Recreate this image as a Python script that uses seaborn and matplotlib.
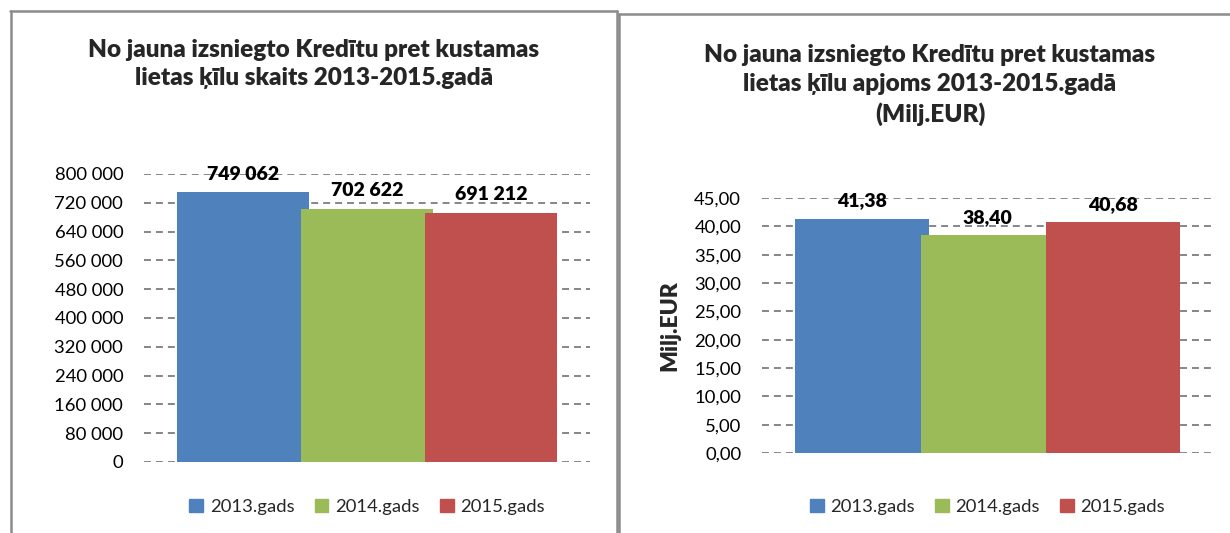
import matplotlib
matplotlib.use("Agg")
import matplotlib.pyplot as plt
import matplotlib.patches as mpatches
from matplotlib.lines import Line2D
from matplotlib.ticker import FuncFormatter
import seaborn as sns

# dati
gadi = ["2013.gads", "2014.gads", "2015.gads"]
skaits = [749062, 702622, 691212]
apjoms = [41.38, 38.40, 40.68]
krasas = ["#4F81BD", "#9BBB59", "#C0504D"]

virsraksts1 = "No jauna izsniegto Kredītu pret kustamas\nlietas ķīlu skaits 2013-2015.gadā"
virsraksts2 = "No jauna izsniegto Kredītu pret kustamas\nlietas ķīlu apjoms 2013-2015.gadā\n(Milj.EUR)"

sns.set_theme(style="white")
plt.rcParams["font.family"] = ["Lato", "DejaVu Sans"]
plt.rcParams["lines.scale_dashes"] = False

W, H = 1230, 533
fig = plt.figure(figsize=(W / 100, H / 100), dpi=100)


def px_axes(x0, x1, y_top, y_bot):
    return fig.add_axes([x0 / W, (H - y_bot) / H, (x1 - x0) / W, (y_bot - y_top) / H])


def fmt_space(v, _=None):
    return f"{int(round(v)):,}".replace(",", " ")


def fmt_comma(v, _=None):
    return f"{v:.2f}".replace(".", ",")


def zimet(ax, vertibas, ymax, step, fmt, leg_y):
    sns.barplot(x=gadi, y=vertibas, hue=gadi, palette=krasas, width=1.065,
                dodge=False, legend=False, saturation=1, linewidth=0, ax=ax)
    ax.set_xlim(-0.798, 2.798)
    ax.set_ylim(0, ymax)
    ax.set_yticks([i * step for i in range(int(round(ymax / step)) + 1)])
    ax.yaxis.set_major_formatter(FuncFormatter(fmt))
    ax.set_xticks([])
    ax.set_xlabel("")
    ax.set_ylabel("")
    for s in ax.spines.values():
        s.set_visible(False)
    ax.yaxis.grid(True, color="#868686", linewidth=1.4, linestyle=(0, (5, 3.6)))
    ax.set_axisbelow(True)
    ax.tick_params(axis="y", length=0, pad=15, labelsize=13.3, labelcolor="#000000")
    for cont, v in zip(ax.containers, vertibas):
        ax.bar_label(cont, labels=[fmt(v)], padding=7, fontsize=14,
                     fontweight="heavy", color="#000000")
    handles = [mpatches.Patch(color=c, label=g) for c, g in zip(krasas, gadi)]
    ax.legend(handles=handles, loc="center", ncol=3, frameon=False, fontsize=13.3,
              bbox_to_anchor=(0.5, leg_y),
              handlelength=0.75, handleheight=0.75, handletextpad=0.35,
              columnspacing=1.1)


ax1 = px_axes(144, 590, 174, 462)
zimet(ax1, skaits, 800000, 80000, fmt_space, (26 - 71) / 288)
fig.text(314 / W, 1 - 64 / H, virsraksts1, ha="center", va="center",
         fontsize=17.5, fontweight="heavy", linespacing=1.37)

ax2 = px_axes(762, 1213, 198, 453)
zimet(ax2, apjoms, 45, 5, fmt_comma, (26 - 80) / 255)
ax2.set_ylabel("Milj.EUR", fontsize=16.5, fontweight="heavy")
ax2.yaxis.set_label_coords(-0.182, 0.5)
fig.text(930 / W, 1 - 85 / H, virsraksts2, ha="center", va="center",
         fontsize=17.5, fontweight="heavy", linespacing=1.37)

# rāmji
ramis = dict(color="#8c8c8c", linewidth=1.8, transform=fig.transFigure)
fig.add_artist(Line2D([11 / W, 11 / W], [0, 1 - 11 / H], **ramis))
fig.add_artist(Line2D([10 / W, 617 / W], [1 - 11 / H, 1 - 11 / H], **ramis))
fig.add_artist(Line2D([617 / W, 617 / W], [0, 1 - 11 / H], **ramis))
fig.add_artist(Line2D([619 / W, 619 / W], [0, 1 - 14 / H], **ramis))
fig.add_artist(Line2D([619 / W, 1], [1 - 14 / H, 1 - 14 / H], **ramis))

fig.savefig("out.png", dpi=100)
